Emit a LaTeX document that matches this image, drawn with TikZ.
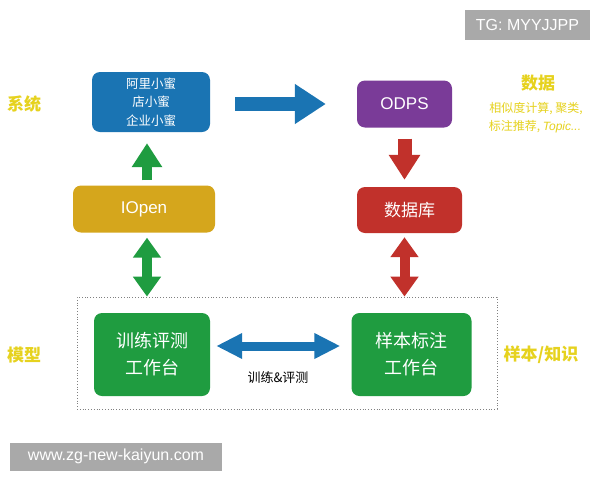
\documentclass[tikz,border=0pt]{standalone}
\usepackage{fontspec}
\setmainfont{Noto Sans CJK SC}
\newfontfamily\lat{Liberation Sans}
\usetikzlibrary{arrows.meta}
\definecolor{cblue}{HTML}{1A74B3}
\definecolor{cpurple}{HTML}{7A3B98}
\definecolor{cred}{HTML}{C1312B}
\definecolor{cgold}{HTML}{D5A61C}
\definecolor{cgreen}{HTML}{1F9C40}
\definecolor{cyel}{HTML}{E6D21E}
\definecolor{cwm}{HTML}{A9A9A9}
\begin{document}
\begin{tikzpicture}[x=1pt,y=-1pt,
  box/.style={rounded corners=8pt, inner sep=0pt, text=white, align=center},
  lab/.style={text=cyel, font=\fontsize{17}{20}\selectfont\bfseries, inner sep=0pt},
  sub/.style={text=cyel, font=\fontsize{12}{15}\selectfont, inner sep=0pt},
  wm/.style={fill=cwm, text=white, inner sep=0pt, font=\lat\fontsize{16}{18}\selectfont},
  upg/.style={line width=10pt, draw=cgreen, -{Triangle[length=24pt,width=29pt]}},
  dblg/.style={line width=10pt, draw=cgreen, {Triangle[length=20pt,width=27pt]}-{Triangle[length=20pt,width=27pt]}},
  dnr/.style={line width=14pt, draw=cred, -{Triangle[length=25pt,width=30pt]}},
  dblr/.style={line width=10pt, draw=cred, {Triangle[length=20pt,width=27pt]}-{Triangle[length=20pt,width=27pt]}},
  rtb/.style={line width=14pt, draw=cblue, -{Triangle[length=31pt,width=38pt]}},
  dblb/.style={line width=9pt, draw=cblue, {Triangle[length=26pt,width=24pt]}-{Triangle[length=26pt,width=24pt]}}
]
\useasboundingbox (0,0) rectangle (600,480);
\fill[white] (0,0) rectangle (600,480);

% watermarks
\node[wm, minimum width=125pt, minimum height=30pt] (tg) at (527.5,25) {TG: MYYJJPP};
\node[wm, minimum width=212pt, minimum height=28pt] (www) at (116,456.5) {www.zg-new-kaiyun.com};

% frame
\node[draw=gray, dotted, line width=0.8pt, minimum width=420pt, minimum height=112pt, inner sep=0pt] (frame) at (287,353) {};

% boxes
\node[box, fill=cblue, minimum width=118pt, minimum height=60pt, font=\fontsize{12.5}{18.5}\selectfont] (xm) at (151,102) {阿里小蜜\\店小蜜\\企业小蜜};
\node[box, fill=cpurple, minimum width=95pt, minimum height=47pt, font=\lat\fontsize{17}{19}\selectfont] (odps) at (404.5,104) {ODPS};
\node[box, fill=cred, minimum width=105pt, minimum height=46pt, font=\fontsize{17}{20}\selectfont] (db) at (409.5,210) {数据库};
\node[box, fill=cgold, minimum width=142pt, minimum height=47pt, font=\lat\fontsize{17}{19}\selectfont] (iopen) at (144,209) {IOpen};
\node[box, fill=cgreen, minimum width=116pt, minimum height=83pt, font=\fontsize{18}{27}\selectfont] (gl) at (152,354.5) {训练评测\\工作台};
\node[box, fill=cgreen, minimum width=120pt, minimum height=83pt, font=\fontsize{18}{27}\selectfont] (gr) at (411.5,354.5) {样本标注\\工作台};

% side labels
\node[lab] (l1) at (24,104) {系统};
\node[lab] (l2) at (24,355) {模型};
\node[lab] (l3) at (541,355) {样本/知识};
\node[lab] (l4) at (538,83) {数据};
\node[sub] (s1) at (536,109) {相似度计算, 聚类,};
\node[sub] (s2) at (535,127) {标注推荐, {\lat\itshape Topic...}};
\node[inner sep=0pt, font=\fontsize{13}{15}\selectfont] (tl) at (278,378) {训练\&评测};

% arrows
\draw[rtb, shorten <=25pt, shorten >=31pt] (xm.east |- 0,104) -- (odps.west);
\draw[upg, shorten <=5pt, shorten >=11pt] ([xshift=3pt]iopen.north) -- ([xshift=3pt]iopen.north |- xm.south);
\draw[dblg, shorten <=5pt] ([xshift=3pt]iopen.south) -- ([xshift=3pt]iopen.south |- frame.north);
\draw[dnr, shorten <=11pt, shorten >=7pt] (odps.south) -- (odps.south |- db.north);
\draw[dblr, shorten <=4pt] (odps.south |- db.south) -- (odps.south |- frame.north);
\draw[dblb, shorten <=6pt, shorten >=11pt] ([yshift=8.5pt]gl.east) -- ([yshift=8.5pt]gl.east -| gr.west);
\end{tikzpicture}
\end{document}
